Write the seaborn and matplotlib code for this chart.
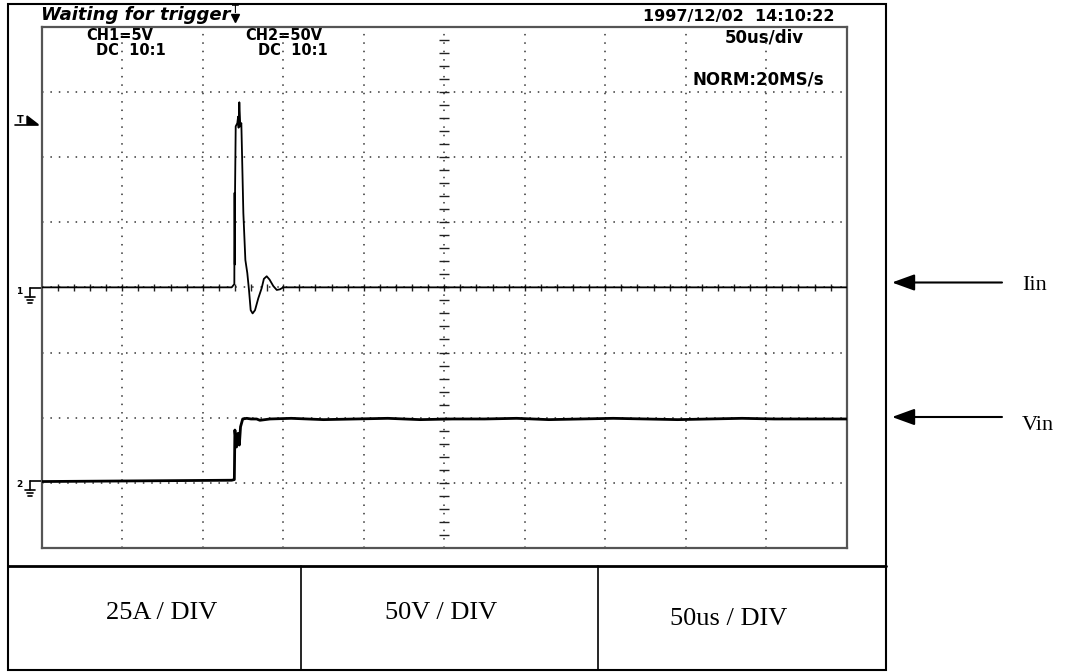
"""
示波器截图复刻：输入电流 Iin 与输入电压 Vin 的启动波形
坐标单位：格（DIV），横向 10 格，纵向 8 格，中心为 0。
"""
import matplotlib
matplotlib.use('Agg')

import matplotlib.pyplot as plt
from matplotlib.patches import Rectangle, Polygon
import seaborn as sns
import numpy as np
import pandas as pd

# ============================================================
# 数据
# ============================================================
# CH1：输入电流 Iin，地线在 0 格
iin_t = [0.0, 2.36, 2.393, 2.396, 2.399, 2.402, 2.41, 2.43, 2.44, 2.446,
         2.455, 2.467, 2.48, 2.505, 2.53, 2.554, 2.575, 2.596, 2.62, 2.65,
         2.69, 2.733, 2.76, 2.795, 2.83, 2.877, 2.92, 2.96, 3.0, 10.0]
iin_v = [0.0, 0.0, 0.05, 1.45, 0.35, 1.50, 2.47, 2.52, 2.62, 2.45,
         2.84, 2.47, 2.52, 1.14, 0.42, 0.22, -0.04, -0.35, -0.40, -0.35,
         -0.17, -0.01, 0.13, 0.17, 0.12, 0.02, -0.04, -0.03, 0.0, 0.0]

# CH2：输入电压 Vin，地线在 -3 格
vin_t = [0.0, 2.36, 2.393, 2.400, 2.42, 2.44, 2.455, 2.47, 2.497, 2.547,
         2.60, 2.67, 2.71, 2.836, 3.1, 3.5, 3.9, 4.3, 4.7, 5.1, 5.5, 5.9,
         6.3, 6.7, 7.1, 7.5, 7.9, 8.3, 8.7, 9.1, 9.5, 10.0]
vin_v = [-2.98, -2.96, -2.95, -2.19, -2.45, -2.24, -2.42, -2.14, -2.02, -2.01,
         -2.02, -2.02, -2.04, -2.02, -2.01, -2.03, -2.02, -2.01, -2.03, -2.02,
         -2.02, -2.01, -2.03, -2.02, -2.01, -2.02, -2.03, -2.02, -2.01, -2.02,
         -2.02, -2.02]

# 屏幕文字
status_text = "Waiting for trigger"
date_text = "1997/12/02  14:10:22"
ch_labels = ["CH1=5V", "CH2=50V"]
coupling_labels = ["DC  10:1", "DC  10:1"]
timebase_text = "50us/div"
mode_text = "NORM:20MS/s"
trace_names = ["Iin", "Vin"]
table_labels = ["25A / DIV", "50V / DIV", "50us / DIV"]

df_iin = pd.DataFrame({'t': iin_t, 'v': iin_v})
df_vin = pd.DataFrame({'t': vin_t, 'v': vin_v})

# ============================================================
# 画布设置
# ============================================================
sns.set_style("white")
plt.rcParams['font.family'] = ['DejaVu Sans']
plt.rcParams['text.color'] = 'black'

W, H = 1075, 672
fig = plt.figure(figsize=(W / 100, H / 100), dpi=100)

# 背景坐标轴：按像素坐标放置外框、表格、箭头和文字
bg = fig.add_axes([0, 0, 1, 1])
bg.set_xlim(0, W)
bg.set_ylim(H, 0)
bg.axis('off')

# 外框和下方表格
bg.add_patch(Rectangle((7.5, 3.5), 878.5, 666.5, fill=False, lw=1.5, ec='black'))
bg.plot([7.5, 886], [566, 566], color='black', lw=2)
for xc in [301, 598]:
    bg.plot([xc, xc], [566, 670], color='black', lw=1.2)

table_x = [161.5, 441, 728.5]
table_y = [619, 619, 625]
for lab, xc, yc in zip(table_labels, table_x, table_y):
    bg.text(xc, yc, lab, fontsize=19, family='Liberation Serif',
            ha='center', va='baseline', color='black')

# 右侧箭头和通道名称
arrow_y = [282.5, 417]
label_y = [290, 430]
for name, ya, yl in zip(trace_names, arrow_y, label_y):
    bg.annotate('', xy=(892, ya), xytext=(1002, ya),
                arrowprops=dict(arrowstyle='-|>,head_length=0.55,head_width=0.2',
                                lw=1.5, color='black', mutation_scale=25,
                                shrinkA=0, shrinkB=0))
    bg.text(1022, yl, name, fontsize=16, family='Liberation Serif',
            ha='left', va='baseline', color='black')

# 屏幕上方文字
bold = dict(fontweight='bold', va='baseline', color='black')
bg.text(41, 20, status_text, fontsize=13, fontweight='bold', style='italic',
        ha='left', va='baseline', color='black')
bg.text(739, 21, date_text, fontsize=11.5, ha='center', **bold)
bg.text(119.5, 40, ch_labels[0], fontsize=10.5, ha='center', **bold)
bg.text(284, 40, ch_labels[1], fontsize=10.5, ha='center', **bold)
bg.text(131, 55, coupling_labels[0], fontsize=10.5, ha='center', **bold)
bg.text(292.5, 55, coupling_labels[1], fontsize=10.5, ha='center', **bold)
bg.text(764, 43, timebase_text, fontsize=12, ha='center', **bold)
bg.text(758.5, 85, mode_text, fontsize=12, ha='center', **bold)

# 顶部触发位置标记
bg.text(235, 13, 'T', fontsize=8, ha='center', va='baseline')
bg.plot([235], [18], marker='v', ms=6, color='black')

# 左侧触发电平标记
bg.text(20, 123, 'T', fontsize=7, fontweight='bold', ha='center', va='baseline')
bg.plot([15, 38], [124.5, 124.5], color='black', lw=1.2)
bg.add_patch(Polygon([(27, 116), (38, 124.5), (27, 124.5)], closed=True, color='black'))


def ground_mark(y, label):
    """画通道地线标记：数字 + 接地符号。"""
    bg.plot([30, 41.7], [y, y], color='black', lw=1.2)
    bg.plot([30, 30], [y, y + 9], color='black', lw=1.2)
    bg.plot([25, 35], [y + 9, y + 9], color='black', lw=1.2)
    bg.plot([26.7, 33.3], [y + 12, y + 12], color='black', lw=1.2)
    bg.plot([28.3, 31.7], [y + 15, y + 15], color='black', lw=1.2)
    bg.text(19, y + 6, label, fontsize=6.5, fontweight='bold', ha='center', va='baseline')


ground_mark(287.7, '1')
ground_mark(481, '2')

# ============================================================
# 示波器网格区域
# ============================================================
L, R, T, B = 41.7, 846.7, 26.7, 548
ax = fig.add_axes([L / W, 1 - B / H, (R - L) / W, (B - T) / H], zorder=2)
ax.set_xlim(0, 10)
ax.set_ylim(-4, 4)
ax.set_xticks([])
ax.set_yticks([])
ax.patch.set_alpha(0)
for s in ax.spines.values():
    s.set_color('#555555')
    s.set_linewidth(1.6)

dot_style = (0, (1, 4.5))
for k in range(1, 10):
    ax.axvline(k, color='#333333', lw=1.1, ls=dot_style, zorder=1)
for k in range(-3, 4):
    ax.axhline(k, color='#333333', lw=1.1, ls=dot_style, zorder=1)

# 中心轴上的小刻度（每 0.2 格）
ax.vlines(np.arange(0.2, 10, 0.2), -0.05, 0.05, color='#222222', lw=1, zorder=2)
ax.hlines(np.arange(-3.8, 4, 0.2), 4.94, 5.06, color='#222222', lw=1, zorder=2)

# 波形
sns.lineplot(data=df_iin, x='t', y='v', ax=ax, color='black', lw=1.3,
             estimator=None, sort=False, zorder=3)
sns.lineplot(data=df_vin, x='t', y='v', ax=ax, color='black', lw=2.0,
             estimator=None, sort=False, zorder=3)
ax.set_xlabel('')
ax.set_ylabel('')

fig.savefig('out.png', dpi=100)
plt.close(fig)
